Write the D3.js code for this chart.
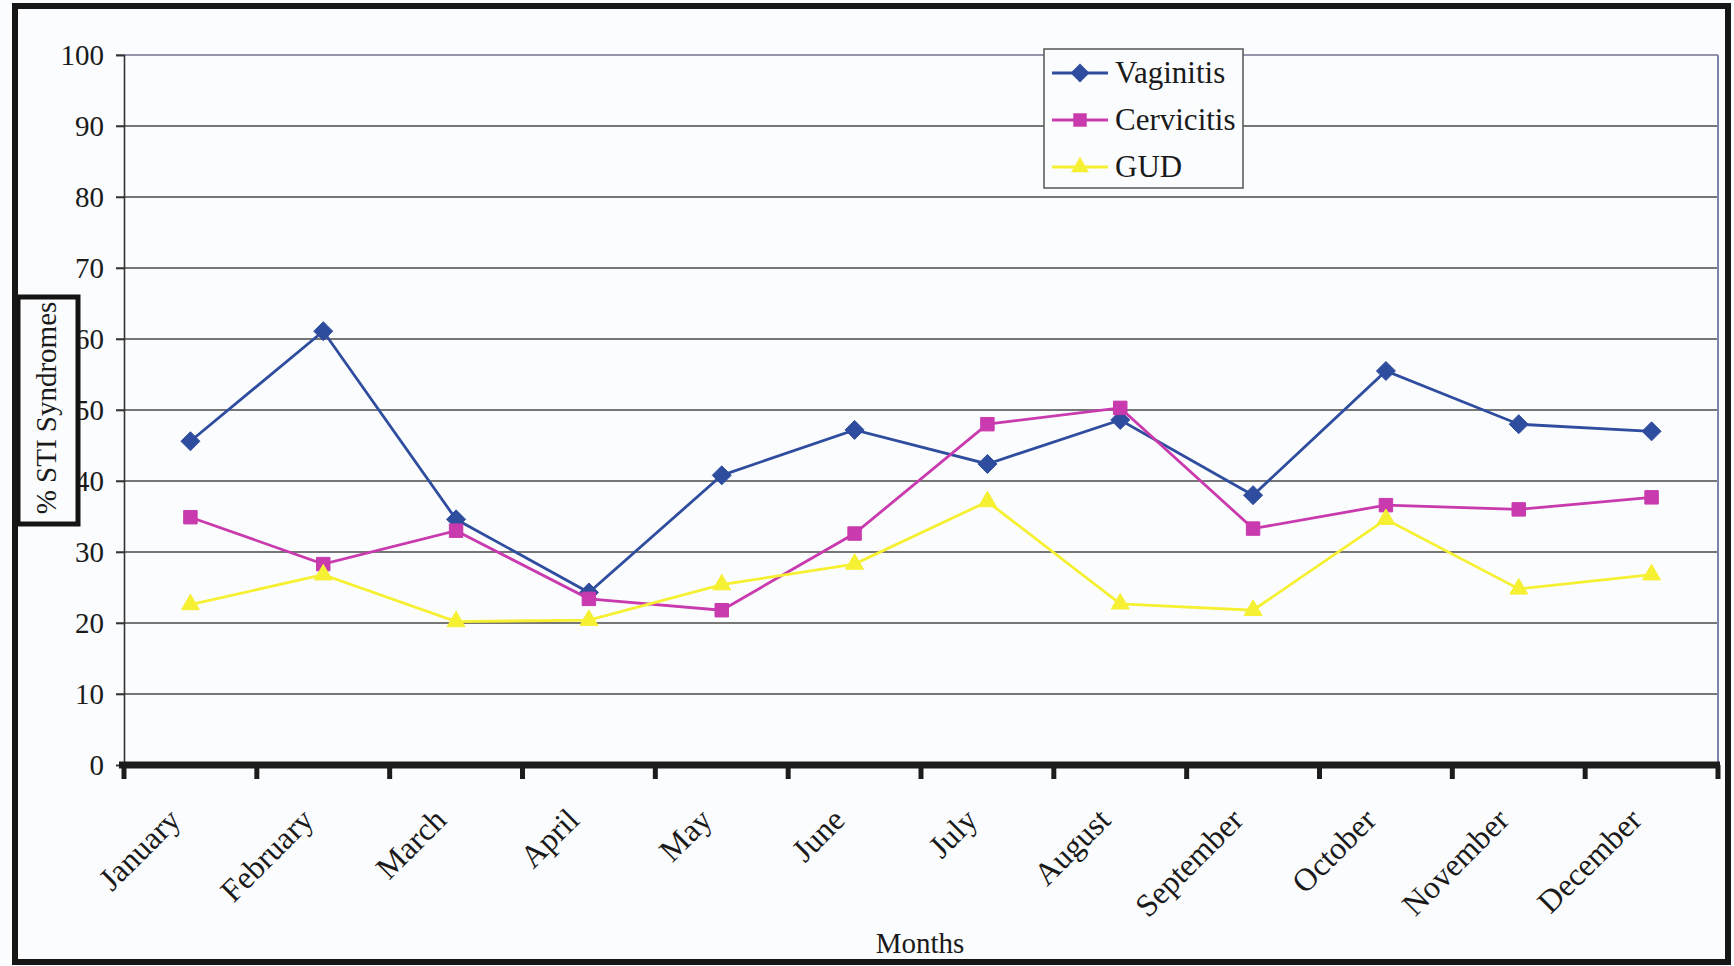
<!DOCTYPE html>
<html>
<head>
<meta charset="utf-8">
<script src="https://cdn.jsdelivr.net/npm/d3@7"></script>
<style>
  body { margin: 0; background: #ffffff; }
  text { font-family: "Liberation Serif", "Times New Roman", serif; fill: #1a1a1a; }
</style>
</head>
<body>
<div id="chart"></div>
<script>
// data
var months = ["January", "February", "March", "April", "May", "June",
              "July", "August", "September", "October", "November", "December"];
var vaginitis  = [45.6, 61.1, 34.6, 24.3, 40.8, 47.2, 42.4, 48.6, 38.0, 55.5, 48.0, 47.0];
var cervicitis = [34.9, 28.3, 33.0, 23.4, 21.8, 32.6, 48.0, 50.3, 33.3, 36.6, 36.0, 37.7];
var gud        = [22.6, 26.8, 20.2, 20.4, 25.4, 28.3, 37.1, 22.7, 21.8, 34.6, 24.8, 26.8];
var yTicks = [0, 10, 20, 30, 40, 50, 60, 70, 80, 90, 100];

var series = [
  { name: "Vaginitis",  values: vaginitis,  color: "#2f4d9e", symbol: d3.symbolDiamond2 },
  { name: "Cervicitis", values: cervicitis, color: "#c83aad", symbol: d3.symbolSquare2 },
  { name: "GUD",        values: gud,        color: "#f6f032", symbol: d3.symbolTriangle2 }
];

// set the dimensions and margins of the graph
var W = 1734, H = 966;
var margin = {top: 55, right: 16, bottom: 201, left: 124},
    width = W - margin.left - margin.right,
    height = H - margin.top - margin.bottom;

var svg = d3.select("#chart")
  .append("svg")
    .attr("width", W)
    .attr("height", H);

// page background (scanned paper)
svg.append("rect")
  .attr("width", W).attr("height", H)
  .attr("fill", "#fbfcfe");

var chart = svg.append("g")
    .attr("transform", "translate(" + margin.left + "," + margin.top + ")");

// scales
var x = d3.scaleBand()
  .domain(months)
  .range([0, width]);
var y = d3.scaleLinear()
  .domain([0, 100])
  .range([height, 0]);

// gridlines
chart.append("g")
  .selectAll("line")
  .data(yTicks.slice(1))
  .enter()
  .append("line")
    .attr("x1", -8)
    .attr("x2", width)
    .attr("y1", function(d) { return y(d) })
    .attr("y2", function(d) { return y(d) })
    .attr("stroke", function(d) { return d == 100 ? "#6f7391" : "#4a4a4a" })
    .attr("stroke-width", 1.6);

// right border of plot area
chart.append("line")
  .attr("x1", width).attr("x2", width)
  .attr("y1", 0).attr("y2", height)
  .attr("stroke", "#7d86a8")
  .attr("stroke-width", 2);

// Y axis
var yAxis = chart.append("g")
  .call(d3.axisLeft(y).tickValues(yTicks).tickSize(8).tickPadding(12));
yAxis.select(".domain").attr("stroke", "#333").attr("stroke-width", 1.6);
yAxis.selectAll(".tick line").attr("stroke", "#333").attr("stroke-width", 1.6);
yAxis.selectAll("text")
  .style("font-family", "'Liberation Serif', serif")
  .style("font-size", "29px")
  .attr("fill", "#1a1a1a");

// X axis (thick baseline with ticks at category edges)
var edges = months.map(function(m) { return x(m) }).concat([width]);
chart.append("line")
  .attr("x1", -5).attr("x2", width + 2)
  .attr("y1", height).attr("y2", height)
  .attr("stroke", "#1c1c1c")
  .attr("stroke-width", 7);
chart.append("g")
  .selectAll("line")
  .data(edges)
  .enter()
  .append("line")
    .attr("x1", function(d) { return d })
    .attr("x2", function(d) { return d })
    .attr("y1", height)
    .attr("y2", height + 14)
    .attr("stroke", "#1c1c1c")
    .attr("stroke-width", 5);

// month labels rotated 45 degrees
chart.append("g")
  .selectAll("text")
  .data(months)
  .enter()
  .append("text")
    .attr("transform", function(d) {
      return "translate(" + (x(d) + x.bandwidth() / 2 - 8) + "," + (height + 57) + ") rotate(-45)";
    })
    .attr("text-anchor", "end")
    .style("font-size", "32px")
    .text(function(d) { return d });

// axis title
svg.append("text")
  .attr("x", 920)
  .attr("y", 953)
  .attr("text-anchor", "middle")
  .style("font-size", "29px")
  .text("Months");

// lines and markers
var line = d3.line()
  .x(function(d, i) { return x(months[i]) + x.bandwidth() / 2 })
  .y(function(d) { return y(d) });

series.forEach(function(s) {
  chart.append("path")
    .datum(s.values)
    .attr("fill", "none")
    .attr("stroke", s.color)
    .attr("stroke-width", 2.8)
    .attr("d", line);
  chart.append("g")
    .selectAll("path")
    .data(s.values)
    .enter()
    .append("path")
      .attr("transform", function(d, i) {
        return "translate(" + (x(months[i]) + x.bandwidth() / 2) + "," + y(d) + ")";
      })
      .attr("d", d3.symbol().type(s.symbol).size(230))
      .attr("fill", s.color)
      .attr("stroke", s.color)
      .attr("stroke-width", 1);
});

// legend
var legend = svg.append("g").attr("transform", "translate(1044,49)");
legend.append("rect")
  .attr("width", 199).attr("height", 139)
  .attr("fill", "#fbfcfe")
  .attr("stroke", "#555")
  .attr("stroke-width", 1.5);
series.forEach(function(s, i) {
  var ly = 24 + i * 47;
  legend.append("line")
    .attr("x1", 8).attr("x2", 64)
    .attr("y1", ly).attr("y2", ly)
    .attr("stroke", s.color)
    .attr("stroke-width", 2.8);
  legend.append("path")
    .attr("transform", "translate(36," + ly + ")")
    .attr("d", d3.symbol().type(s.symbol).size(230))
    .attr("fill", s.color);
  legend.append("text")
    .attr("x", 71)
    .attr("y", ly + 10)
    .style("font-size", "31px")
    .text(s.name);
});

// y axis title in a boxed label
svg.append("rect")
  .attr("x", 18).attr("y", 297)
  .attr("width", 60).attr("height", 227)
  .attr("fill", "#fbfcfe")
  .attr("stroke", "#141414")
  .attr("stroke-width", 5);
svg.append("text")
  .attr("transform", "translate(56,408) rotate(-90)")
  .attr("text-anchor", "middle")
  .style("font-size", "29px")
  .text("% STI Syndromes");

// outer frame
svg.append("rect")
  .attr("x", 15).attr("y", 6)
  .attr("width", 1713).attr("height", 956)
  .attr("fill", "none")
  .attr("stroke", "#161616")
  .attr("stroke-width", 6);
</script>
</body>
</html>
